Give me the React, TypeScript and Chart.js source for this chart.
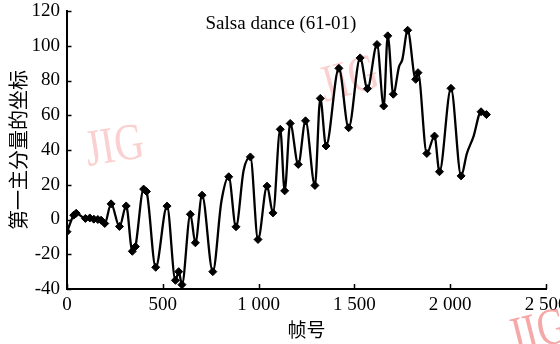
import React, { useEffect, useRef } from "react";
import { Chart, registerables } from "chart.js";

Chart.register(...registerables);

// Key frames (marked points) of the first principal component
const keyFrames = [0, 35, 48, 96, 119, 140, 161, 178, 197, 230, 274, 309, 341, 357, 400, 415, 463, 522, 566, 583, 600, 644, 670, 705, 761, 844, 882, 957, 997, 1044, 1075, 1113, 1136, 1165, 1207, 1245, 1294, 1322, 1352, 1419, 1470, 1530, 1568, 1618, 1653, 1674, 1703, 1778, 1820, 1832, 1878, 1918, 1944, 2004, 2057, 2161, 2189];
const keyValues = [-7, 2.5, 3.6, 0.6, 0.9, 0.2, 0, -0.4, -2.3, 9, -4, 7.8, -18.3, -15.6, 17.5, 16.1, -27.5, 7.7, -35, -30, -37.5, 3, -13.4, 14, -30, 24.6, -4.2, 36, -11.5, 19.2, 3.8, 51.9, 16.5, 55.3, 31.7, 56.8, 19.6, 69.7, 42.3, 87, 52.8, 93, 75.3, 100.7, 65.3, 105.7, 72.1, 108.9, 80.7, 84.5, 38, 48, 27.5, 75.5, 25.1, 62, 60.4];
// Unmarked frames that shape the curve's shoulders
const bendFrames = [806, 922, 1733, 1750, 2087, 2121];
const bendValues = [10.5, 28.4, 88, 92, 38, 47.6];

const xTickValues = [0, 500, 1000, 1500, 2000, 2500];
const xTickLabels = ["0", "500", "1 000", "1 500", "2 000", "2 500"];
const yTickValues = [-40, -20, 0, 20, 40, 60, 80, 100, 120];

const titleText = "Salsa dance (61-01)";
const xTitle = "帧号";
const yTitle = "第一主分量的坐标";
const watermark = "JIG";

const SERIF = '"Liberation Serif", "Times New Roman", serif';
const CJK = '"Noto Sans CJK SC", "Noto Sans", sans-serif';

export default function App() {
  const ref = useRef<HTMLCanvasElement | null>(null);

  useEffect(() => {
    const canvas = ref.current;
    if (!canvas) return;

    const curve = keyFrames
      .map((f, i) => ({ x: f, y: keyValues[i] }))
      .concat(bendFrames.map((f, i) => ({ x: f, y: bendValues[i] })))
      .sort((a, b) => a.x - b.x);
    const markers = keyFrames.map((f, i) => ({ x: f, y: keyValues[i] }));

    const decor = {
      id: "decor",
      beforeDatasetsDraw(chart: any) {
        const ctx = chart.ctx as CanvasRenderingContext2D;
        const marks = [
          { x: 88, y: 166, rot: -9, color: "rgba(246,150,150,0.45)" },
          { x: 325, y: 102, rot: -16, color: "rgba(246,150,150,0.45)" },
          { x: 513, y: 354, rot: -14, color: "rgba(238,110,110,0.6)" },
        ];
        for (const m of marks) {
          ctx.save();
          ctx.translate(m.x, m.y);
          ctx.rotate((m.rot * Math.PI) / 180);
          ctx.scale(0.78, 1);
          ctx.font = `52px ${SERIF}`;
          ctx.fillStyle = m.color;
          ctx.textAlign = "left";
          ctx.textBaseline = "alphabetic";
          ctx.fillText(watermark, 0, 0);
          ctx.restore();
        }
      },
      afterDraw(chart: any) {
        const ctx = chart.ctx as CanvasRenderingContext2D;
        const area = chart.chartArea;
        const xs = chart.scales.x;
        const ys = chart.scales.y;
        ctx.save();
        ctx.strokeStyle = "#000";
        ctx.lineWidth = 1.5;
        ctx.beginPath();
        for (const v of yTickValues) {
          const py = Math.round(ys.getPixelForValue(v)) + 0.5;
          ctx.moveTo(area.left, py);
          ctx.lineTo(area.left + 4.5, py);
        }
        for (const v of xTickValues) {
          const px = Math.round(xs.getPixelForValue(v)) + 0.5;
          ctx.moveTo(px, area.bottom);
          ctx.lineTo(px, area.bottom - 5);
        }
        ctx.stroke();
        ctx.font = `19px ${SERIF}`;
        ctx.fillStyle = "#000";
        ctx.textAlign = "center";
        ctx.textBaseline = "alphabetic";
        ctx.fillText(titleText, 281, 29);
        ctx.restore();
      },
    };

    const chart = new Chart(canvas, {
      type: "line",
      data: {
        datasets: [
          {
            label: "curve",
            data: curve,
            borderColor: "#000",
            borderWidth: 2.3,
            pointRadius: 0,
            cubicInterpolationMode: "monotone",
            fill: false,
          },
          {
            label: "key frames",
            data: markers,
            showLine: false,
            pointStyle: "rectRot",
            pointRadius: 4,
            pointBackgroundColor: "#000",
            pointBorderColor: "#000",
            pointBorderWidth: 1,
          },
        ],
      },
      options: {
        responsive: false,
        animation: false,
        events: [],
        layout: { padding: { left: 0, top: 11, right: 14, bottom: 0 } },
        plugins: {
          legend: { display: false },
          tooltip: { enabled: false },
          title: { display: false },
        },
        scales: {
          x: {
            type: "linear",
            min: 0,
            max: 2500,
            afterBuildTicks(scale: any) {
              scale.ticks = xTickValues.map((v) => ({ value: v }));
            },
            afterFit(scale: any) {
              scale.height = 55;
              scale.paddingLeft = 0;
              scale.paddingRight = 0;
            },
            ticks: {
              autoSkip: false,
              maxRotation: 0,
              padding: 5,
              color: "#000",
              font: { family: SERIF, size: 19 },
              callback: (v: any) => {
                const i = xTickValues.indexOf(Number(v));
                return i >= 0 ? xTickLabels[i] : "";
              },
            },
            grid: { display: false, drawTicks: false },
            border: { display: true, color: "#000", width: 2 },
            title: {
              display: true,
              text: xTitle,
              color: "#000",
              font: { family: CJK, size: 19 },
              padding: { top: 0, bottom: 3 },
            },
          },
          y: {
            type: "linear",
            min: -40,
            max: 120,
            afterBuildTicks(scale: any) {
              scale.ticks = yTickValues.map((v) => ({ value: v }));
            },
            afterFit(scale: any) {
              scale.width = 67;
              scale.paddingTop = 0;
              scale.paddingBottom = 0;
            },
            ticks: {
              autoSkip: false,
              padding: 7,
              color: "#000",
              font: { family: SERIF, size: 19 },
              callback: (v: any) => String(v),
            },
            grid: { display: false, drawTicks: false },
            border: { display: true, color: "#000", width: 2 },
            title: {
              display: true,
              text: yTitle,
              color: "#000",
              font: { family: CJK, size: 20 },
              padding: { top: 6, bottom: 0 },
            },
          },
        },
      },
      plugins: [decor],
    } as any);

    return () => chart.destroy();
  }, []);

  return (
    <div style={{ position: "fixed", left: 0, top: 0, width: 560, height: 344, background: "#fff" }}>
      <canvas ref={ref} width={560} height={344} style={{ display: "block" }} />
    </div>
  );
}
